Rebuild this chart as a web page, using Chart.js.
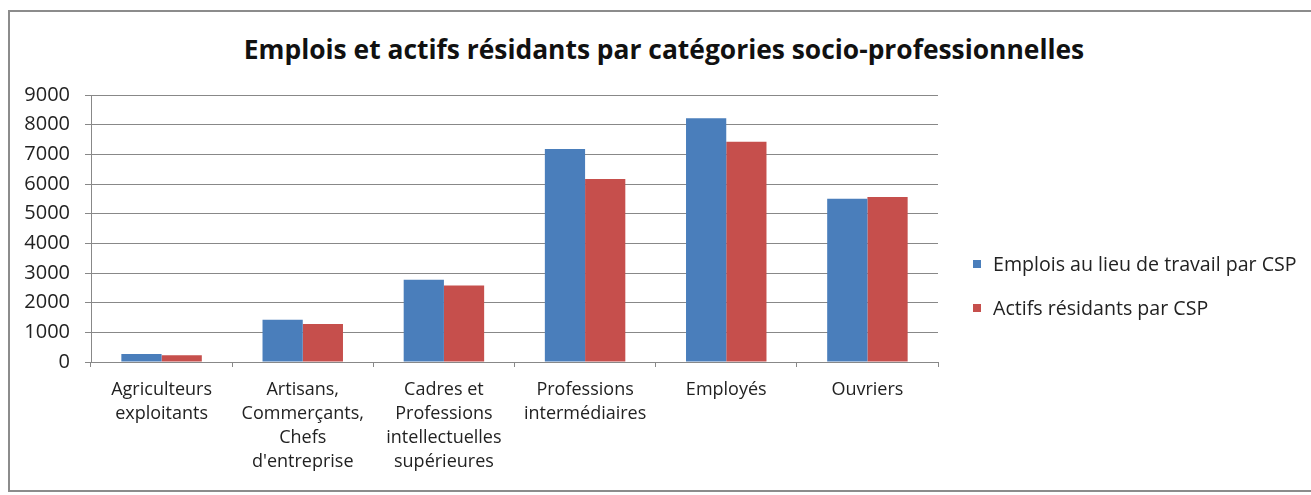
<!DOCTYPE html>
<html>
<head>
<meta charset="utf-8">
<script src="https://cdn.jsdelivr.net/npm/chart.js@4.4.0/dist/chart.umd.min.js"></script>
<style>
  html, body { margin: 0; padding: 0; background: #fff; }
  #wrap { position: relative; width: 1311px; height: 495px; overflow: hidden; font-family: "Open Sans", Lato, sans-serif; }
  #frame { position: absolute; left: 8px; top: 10px; width: 1320px; height: 482px; border: 2px solid #8c8c8c; box-sizing: border-box; }
  #title { position: absolute; left: 0; width: 1328px; top: 31px; text-align: center; font-weight: bold; font-size: 26.4px; line-height: 36px; color: #111; }
  canvas { position: absolute; left: 0; top: 0; }
  #legend { position: absolute; left: 973px; top: 250px; font-size: 19.6px; line-height: 27px; color: #222; }
  #legend div { height: 44px; display: flex; align-items: flex-start; }
  #legend span.sw { display: inline-block; width: 8px; height: 8px; margin: 10px 12px 0 0; }
</style>
</head>
<body>
<div id="wrap">
  <div id="frame"></div>
  <div id="title">Emplois et actifs résidants par catégories socio-professionnelles</div>
  <canvas id="chart" width="1311" height="495"></canvas>
  <div id="legend"></div>
</div>
<script>
const categories = [
  ["Agriculteurs", "exploitants"],
  ["Artisans,", "Commerçants,", "Chefs", "d'entreprise"],
  ["Cadres et", "Professions", "intellectuelles", "supérieures"],
  ["Professions", "intermédiaires"],
  "Employés",
  "Ouvriers"
];
const emplois = [270, 1420, 2770, 7180, 8220, 5500];
const actifs = [230, 1280, 2580, 6170, 7420, 5560];
const seriesNames = ["Emplois au lieu de travail par CSP", "Actifs résidants par CSP"];
const seriesColours = ["#4a7ebb", "#c64f4c"];

const font = "'Open Sans', Lato, sans-serif";

const chart = new Chart(document.getElementById("chart"), {
  type: "bar",
  data: {
    labels: categories,
    datasets: [
      { label: seriesNames[0], data: emplois, backgroundColor: seriesColours[0] },
      { label: seriesNames[1], data: actifs, backgroundColor: seriesColours[1] }
    ]
  },
  options: {
    responsive: false,
    animation: false,
    layout: { padding: { left: 10, right: 373, top: 95, bottom: 10 } },
    datasets: { bar: { categoryPercentage: 0.57, barPercentage: 1.0 } },
    plugins: {
      legend: { display: false },
      tooltip: { enabled: false }
    },
    scales: {
      x: {
        afterFit: scale => { scale.height = 123; },
        border: { color: "#888", width: 1 },
        grid: { drawOnChartArea: false, drawTicks: true, tickLength: 5, color: "#888", offset: true },
        ticks: {
          color: "#222",
          maxRotation: 0,
          autoSkip: false,
          padding: 11,
          font: { family: font, size: 18, lineHeight: 1.333 }
        }
      },
      y: {
        min: 0,
        max: 9000,
        afterFit: scale => { scale.width = 81; },
        border: { color: "#888", width: 1 },
        grid: { color: "#888", tickLength: 6 },
        ticks: {
          stepSize: 1000,
          color: "#222",
          padding: 15,
          callback: v => String(v),
          font: { family: font, size: 20 }
        }
      }
    }
  }
});

// legend built from the dataset labels and colours
const legend = document.getElementById("legend");
chart.data.datasets.forEach(ds => {
  const row = document.createElement("div");
  const sw = document.createElement("span");
  sw.className = "sw";
  sw.style.background = ds.backgroundColor;
  row.appendChild(sw);
  row.appendChild(document.createTextNode(ds.label));
  legend.appendChild(row);
});
</script>
</body>
</html>
